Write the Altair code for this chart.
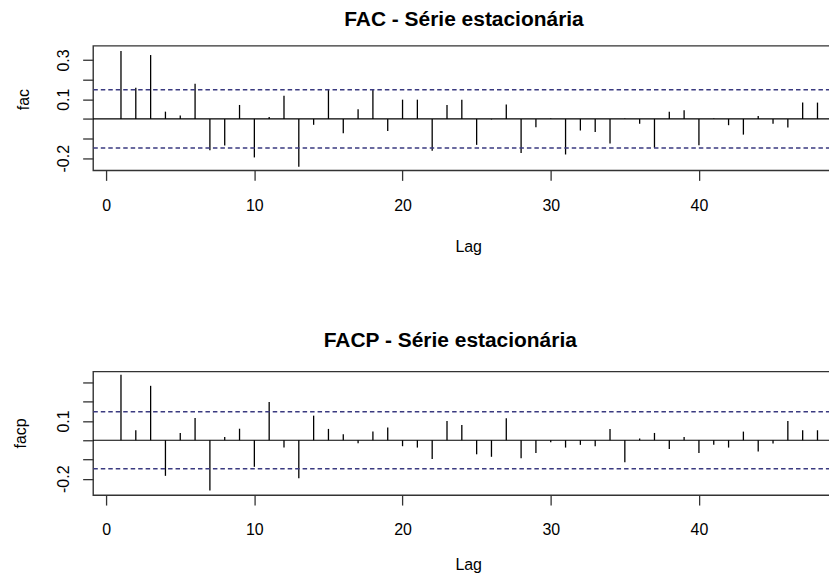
import altair as alt
import pandas as pd

lags = list(range(1, 49))
fac = [0.345, 0.159, 0.325, 0.037, 0.017, 0.179, -0.159, -0.135, 0.071, -0.196,
       0.010, 0.118, -0.244, -0.030, 0.151, -0.073, 0.049, 0.151, -0.061, 0.098,
       0.098, -0.162, 0.071, 0.098, -0.132, -0.003, 0.073, -0.174, -0.042, 0.002,
       -0.181, -0.059, -0.066, -0.125, 0.002, -0.025, -0.147, 0.036, 0.044, -0.134,
       0.002, -0.032, -0.080, 0.015, -0.024, -0.044, 0.083, 0.083]
facp = [0.340, 0.052, 0.283, -0.185, 0.038, 0.116, -0.261, 0.017, 0.060, -0.138,
        0.199, -0.038, -0.197, 0.128, 0.059, 0.031, -0.016, 0.045, 0.066, -0.031,
        -0.038, -0.098, 0.100, 0.079, -0.073, -0.086, 0.114, -0.093, -0.066, -0.010,
        -0.038, -0.024, -0.031, 0.059, -0.114, 0.009, 0.038, -0.045, 0.017, -0.066,
        -0.024, -0.038, 0.045, -0.059, -0.017, 0.100, 0.052, 0.052]
ci_bounds = [0.148, -0.148]
zero_line = [0.0]
x_ticks = [0, 10, 20, 30, 40]
y_ticks = [-0.2, -0.1, 0.0, 0.1, 0.2, 0.3]

FONT = "Liberation Sans"
W = 754.7
XDOM = [-0.88, 49.88]


def label_expr(shown):
    parts = " || ".join(f"abs(datum.value - ({v})) < 0.000001" for v in shown)
    return f"({parts}) ? replace(format(datum.value, '.1f'), '\u2212', '-') : ''"


def panel(vals, ylab, title, ydom, h, shown, ytitle_x, ytitle_y, toffset, tdx, lag_y):
    df = pd.DataFrame({"lag": lags, "value": vals})
    ci = pd.DataFrame({"value": ci_bounds})
    zdf = pd.DataFrame({"value": zero_line})
    x = alt.X("lag:Q", scale=alt.Scale(domain=XDOM, nice=False, zero=False),
              axis=alt.Axis(values=x_ticks, title="Lag", domain=False, grid=False,
                            tickSize=10, tickColor="#333", tickWidth=1.3,
                            labelFont=FONT, labelFontSize=16, labelColor="black",
                            labelPadding=17, labelFlush=False, labelOverlap=False,
                            titleFont=FONT, titleFontSize=16, titleFontWeight="normal",
                            titleColor="black", titleX=376.3, titleY=lag_y,
                            titleBaseline="middle", titleAlign="center"))
    y = alt.Y("value:Q", scale=alt.Scale(domain=ydom, nice=False, zero=False),
              axis=alt.Axis(values=y_ticks, title=ylab, domain=False, grid=False,
                            tickSize=10.5, tickColor="#333", tickWidth=1.3,
                            labelFont=FONT, labelFontSize=16, labelColor="black",
                            labelAngle=270, labelAlign="center", labelBaseline="bottom",
                            labelPadding=11, labelOverlap=False,
                            labelExpr=label_expr(shown),
                            titleFont=FONT, titleFontSize=16, titleFontWeight="normal",
                            titleColor="black", titleX=ytitle_x, titleY=ytitle_y,
                            titleAngle=270, titleBaseline="middle", titleAlign="center"))
    bars = alt.Chart(df).mark_rule(color="black", strokeWidth=1.3).encode(
        x=x, y=y, y2=alt.datum(0))
    zero = alt.Chart(zdf).mark_rule(color="black", strokeWidth=1.2).encode(y=y)
    dash = alt.Chart(ci).mark_rule(color="#3a3a80", strokeWidth=1.5,
                                   strokeDash=[4.5, 3]).encode(y=y)
    return alt.layer(bars, zero, dash).properties(
        width=W, height=h,
        title=alt.TitleParams(title, font=FONT, fontSize=21, fontWeight="bold",
                              color="black", anchor="middle", offset=toffset, dx=tdx))


p1 = panel(fac, "fac", "FAC - Série estacionária", [-0.262, 0.372], 125,
           [0.3, 0.1, -0.2], -70, 53.5, 16, -5.3, 76.5)
p2 = panel(facp, "facp", "FACP - Série estacionária", [-0.285, 0.3575], 124,
           [0.1, -0.2], -73.3, 61.7, 20.3, -19, 70)

chart = alt.vconcat(p1, p2, spacing=73.75).properties(
    padding={"left": 3.4, "top": -1, "right": -18.4, "bottom": 0},
    background="white"
).configure_view(stroke="#333", strokeWidth=1.4)

chart.save("out.html", embed_options={"renderer": "svg", "actions": False})
